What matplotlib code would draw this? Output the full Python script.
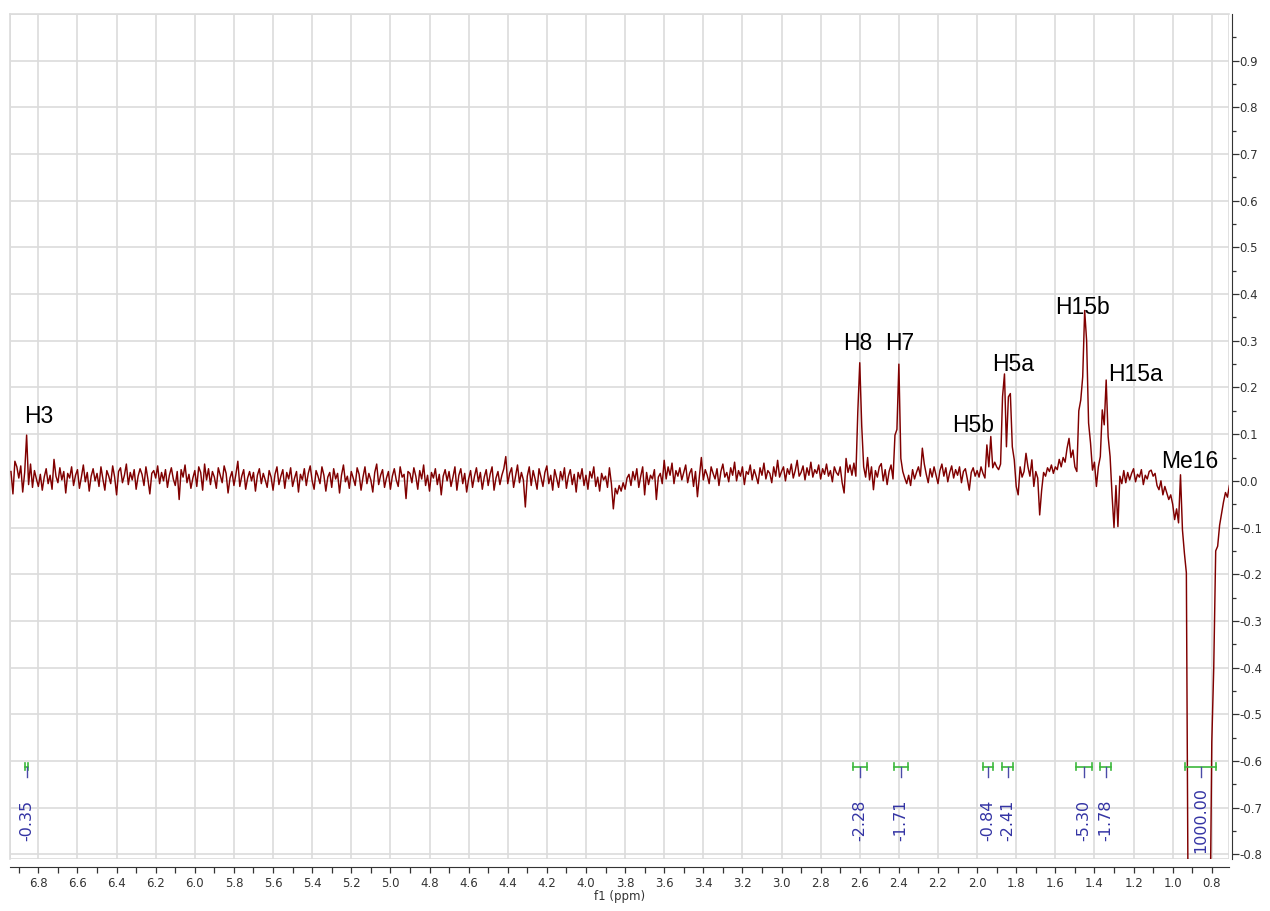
import numpy as np
import matplotlib
matplotlib.use("Agg")
import matplotlib.pyplot as plt
from matplotlib.patches import Rectangle
from matplotlib.ticker import FuncFormatter

plt.rcParams['axes.unicode_minus'] = False
plt.rcParams['font.family'] = 'DejaVu Sans'

# spectrum sampled every 0.01 ppm, starting at the left edge (6.94 ppm)
ppm_start = 6.94
ppm_step = 0.01
intensity = [
    0.020, -0.028, 0.042, 0.030,
    # 6.9
    0.006, 0.032, -0.024, 0.018, 0.098, -0.008, 0.036, -0.014, 0.022, 0.004,
    -0.012, 0.014, -0.020, 0.008, 0.026, -0.006, 0.012, -0.018, 0.046, 0.010,
    -0.004, 0.028, 0.002, 0.020, -0.026, 0.016, 0.006, 0.030, -0.010, 0.012,
    0.024, -0.016, 0.008, 0.034, -0.002, 0.018, -0.022, 0.010, 0.026, 0.000,
    0.016, -0.012, 0.030, 0.004, -0.020, 0.022, 0.010, -0.006, 0.032, 0.008,
    -0.030, 0.020, 0.028, -0.004, 0.012, 0.036, -0.008, 0.018, 0.002, 0.024,
    -0.018, 0.010, 0.026, 0.014, -0.010, 0.030, 0.004, -0.028, 0.016, 0.022,
    0.006, 0.032, -0.006, 0.018, 0.000, 0.024, -0.014, 0.012, 0.028, 0.004,
    -0.010, 0.020, -0.040, 0.024, 0.008, 0.034, -0.004, 0.014, -0.016, 0.006,
    0.022, -0.012, 0.030, 0.018, -0.020, 0.036, 0.002, 0.026, -0.008, 0.020,
    # 5.9
    0.008, -0.016, 0.028, 0.012, -0.004, 0.032, 0.016, -0.026, 0.006, 0.020,
    -0.010, 0.014, 0.042, -0.012, 0.010, 0.024, -0.018, 0.006, 0.020, 0.000,
    0.018, -0.022, 0.012, 0.026, -0.006, 0.016, 0.002, -0.014, 0.022, 0.008,
    -0.020, 0.014, 0.030, -0.008, 0.010, 0.024, -0.016, 0.018, 0.004, 0.028,
    -0.012, 0.006, 0.020, -0.024, 0.014, 0.002, 0.026, -0.010, 0.016, 0.032,
    0.000, -0.018, 0.022, 0.010, -0.006, 0.030, 0.012, -0.022, 0.008, 0.018,
    -0.014, 0.026, 0.004, 0.016, -0.026, 0.012, 0.034, -0.002, 0.010, -0.016,
    0.020, 0.006, -0.010, 0.028, 0.014, -0.020, 0.008, 0.030, -0.006, 0.016,
    0.002, -0.024, 0.018, 0.036, -0.008, 0.012, 0.024, -0.014, 0.006, 0.020,
    -0.018, 0.010, 0.026, 0.002, -0.012, 0.030, 0.008, 0.014, -0.038, 0.020,
    # 4.9
    0.016, -0.004, 0.028, 0.010, -0.018, 0.022, 0.004, 0.034, -0.010, 0.012,
    -0.022, 0.018, 0.006, 0.026, -0.008, 0.014, -0.030, 0.010, 0.024, 0.000,
    0.020, -0.012, 0.008, 0.030, -0.020, 0.012, 0.026, -0.006, 0.016, -0.024,
    0.004, 0.022, -0.014, 0.010, 0.028, -0.002, 0.018, -0.018, 0.008, 0.024,
    -0.010, 0.014, 0.030, -0.020, 0.006, 0.020, -0.008, 0.012, 0.026, 0.052,
    -0.006, 0.016, 0.028, -0.014, 0.010, 0.034, -0.004, 0.018, 0.002, -0.056,
    0.010, 0.030, -0.010, 0.022, 0.004, -0.018, 0.026, 0.008, -0.012, 0.018,
    0.032, -0.006, 0.012, -0.020, 0.024, 0.006, -0.014, 0.020, 0.002, 0.028,
    -0.016, 0.010, 0.024, -0.008, 0.014, -0.024, 0.018, 0.004, 0.026, -0.010,
    0.012, -0.018, 0.020, 0.006, 0.030, -0.012, 0.008, -0.022, 0.016, 0.002,
    # 3.9
    0.010, -0.014, 0.028, -0.006, -0.060, -0.016, -0.028, -0.010, -0.022, -0.004,
    -0.018, 0.006, 0.014, -0.010, 0.020, 0.002, 0.026, -0.014, 0.010, 0.030,
    -0.030, 0.018, -0.008, 0.012, 0.004, 0.024, -0.040, 0.008, 0.016, -0.006,
    0.044, 0.004, 0.030, 0.012, 0.038, -0.006, 0.022, 0.010, 0.028, 0.002,
    0.018, 0.034, -0.004, 0.016, 0.026, -0.012, 0.020, -0.034, 0.010, 0.050,
    0.002, 0.024, 0.012, -0.006, 0.030, 0.016, 0.004, 0.026, -0.010, 0.020,
    0.036, 0.008, 0.018, -0.002, 0.028, 0.012, 0.040, 0.000, 0.022, 0.010,
    0.030, -0.008, 0.020, 0.014, 0.034, 0.002, 0.024, 0.010, -0.006, 0.028,
    0.012, 0.038, 0.004, 0.022, 0.016, -0.004, 0.030, 0.010, 0.044, 0.008,
    0.020, 0.030, 0.000, 0.026, 0.014, 0.036, 0.006, 0.022, 0.044, 0.010,
    # 2.9
    0.018, 0.032, 0.002, 0.028, 0.012, 0.040, 0.008, 0.024, 0.016, 0.034,
    0.004, 0.026, 0.014, 0.036, 0.010, 0.022, -0.002, 0.030, 0.018, 0.012,
    0.030, -0.004, -0.026, 0.048, 0.018, 0.034, 0.012, 0.038, 0.010, 0.148,
    0.253, 0.118, 0.030, 0.008, 0.050, 0.002, 0.030, -0.019, 0.022, 0.008,
    0.030, 0.037, 0.000, 0.024, -0.008, 0.020, 0.034, 0.004, 0.098, 0.110,
    0.250, 0.048, 0.020, 0.006, -0.006, 0.012, -0.010, 0.024, 0.004, 0.018,
    0.030, 0.010, 0.070, 0.036, 0.014, -0.004, 0.026, 0.008, 0.030, 0.012,
    -0.006, 0.022, 0.036, 0.010, 0.028, -0.002, 0.018, 0.032, 0.006, 0.024,
    0.012, 0.030, -0.004, 0.020, 0.026, 0.004, -0.020, 0.018, 0.028, 0.010,
    0.022, 0.008, 0.030, 0.016, 0.006, 0.077, 0.030, 0.095, 0.028, 0.040,
    # 1.9
    0.030, 0.024, 0.036, 0.180, 0.229, 0.073, 0.180, 0.187, 0.073, 0.045,
    -0.012, -0.030, 0.030, 0.008, 0.020, 0.059, 0.030, 0.010, 0.045, -0.012,
    0.020, 0.006, -0.073, -0.020, 0.018, 0.010, 0.028, 0.020, 0.034, 0.016,
    0.030, 0.024, 0.046, 0.030, 0.050, 0.040, 0.070, 0.091, 0.050, 0.066,
    0.030, 0.020, 0.150, 0.173, 0.223, 0.365, 0.300, 0.124, 0.081, 0.023,
    0.040, -0.012, 0.030, 0.052, 0.152, 0.120, 0.216, 0.095, 0.052, -0.030,
    -0.100, -0.010, -0.098, 0.010, -0.006, 0.022, -0.004, 0.018, 0.002, 0.016,
    0.026, -0.002, 0.014, 0.008, 0.024, -0.008, 0.012, 0.004, 0.020, 0.023,
    0.010, 0.016, -0.010, -0.019, 0.000, -0.030, -0.012, -0.026, -0.040, -0.030,
    -0.050, -0.083, -0.060, -0.090, 0.013, -0.105, -0.155, -0.197, -1.000, -2.500,
    # 0.9
    -4.5, -6.0, -7.0, -7.5, -7.2, -6.0, -4.5, -3.0, -1.8, -1.0,
    -0.560, -0.400, -0.150, -0.140, -0.095, -0.070, -0.045, -0.025, -0.035, -0.010,
]
ppm = ppm_start - ppm_step * np.arange(len(intensity))

# peak labels
peak_names = ['H3', 'H8', 'H7', 'H5b', 'H5a', 'H15b', 'H15a', 'Me16']
peak_ppm = [6.80, 2.61, 2.395, 2.02, 1.815, 1.463, 1.19, 0.911]
peak_y = [0.124, 0.28, 0.28, 0.105, 0.236, 0.357, 0.214, 0.027]

# integrals
int_from = [6.866, 2.635, 2.426, 1.968, 1.872, 1.492, 1.370, 0.936]
int_to = [6.852, 2.564, 2.355, 1.920, 1.817, 1.414, 1.314, 0.777]
int_value = [-0.35, -2.28, -1.71, -0.84, -2.41, -5.30, -1.78, 1000.00]
int_level = -0.612

W, H = 1270, 911
fig = plt.figure(figsize=(W / 100, H / 100), dpi=100)
ax = fig.add_axes([10 / W, (H - 859) / H, (1229 - 10) / W, (859 - 14) / H])

grid_c = '#dcdcdc'
ax.plot(ppm, intensity, color='#800000', lw=1.05, zorder=3)
ax.set_xlim(6.945, 0.712)
ax.set_ylim(-0.81, 1.0)

ax.set_xticks(np.round(np.arange(6.8, 0.75, -0.2), 1))
ax.set_xticks(np.round(np.arange(6.9, 0.7, -0.1), 1), minor=True)
ax.set_yticks(np.round(np.arange(-0.8, 0.95, 0.1), 1))
ax.set_yticks(np.round(np.arange(-0.75, 1.0, 0.1), 2), minor=True)
fmt = FuncFormatter(lambda v, p: ('%.1f' % round(v, 1)).replace('-0.0', '0.0'))
ax.xaxis.set_major_formatter(fmt)
ax.yaxis.set_major_formatter(fmt)
ax.grid(True, which='major', color=grid_c, lw=1.2)
ax.set_axisbelow(True)

ax.yaxis.tick_right()
ax.tick_params(axis='y', which='major', direction='out', length=5, width=0.9,
               pad=0.5, labelsize=8.5, colors='#333333')
ax.tick_params(axis='y', which='minor', direction='out', length=3, width=0.9, colors='#333333')
ax.tick_params(axis='x', which='major', direction='out', length=4, width=0.9,
               pad=3, labelsize=8.5, colors='#333333')
ax.tick_params(axis='x', which='minor', direction='out', length=4, width=0.9, colors='#333333')

for s in ['left', 'top']:
    ax.spines[s].set_color(grid_c)
    ax.spines[s].set_linewidth(1.2)
ax.spines['bottom'].set_position(('outward', 6))
ax.spines['bottom'].set_color('#333333')
ax.spines['right'].set_position(('outward', 2))
ax.spines['right'].set_color('#333333')
ax.add_patch(Rectangle((0, 0), 1, 1, transform=ax.transAxes, fill=False,
                       edgecolor=grid_c, lw=1.2, zorder=1))

ax.set_xlabel('f1 (ppm)', fontsize=8.5, labelpad=0, color='#333333')

for name, x, y in zip(peak_names, peak_ppm, peak_y):
    ax.text(x, y, name, ha='center', va='baseline', fontsize=16.5,
            family='Liberation Sans', color='black', zorder=5)

green = '#3cb83c'
for a, b, v in zip(int_from, int_to, int_value):
    ax.plot([a, b], [int_level, int_level], color=green, lw=1.2, zorder=4)
    ax.plot([a, a], [int_level - 0.008, int_level + 0.008], color=green, lw=1.2, zorder=4)
    ax.plot([b, b], [int_level - 0.008, int_level + 0.008], color=green, lw=1.2, zorder=4)
    c = (a + b) / 2
    ax.plot([c, c], [int_level, int_level - 0.022], color='#4a4aa8', lw=1.0, zorder=4)
    ax.text(c, -0.727, '%.2f' % v, rotation=90, ha='center', va='center',
            fontsize=11.5, color='#3434a4', zorder=5)

fig.savefig('out.png', dpi=100)
